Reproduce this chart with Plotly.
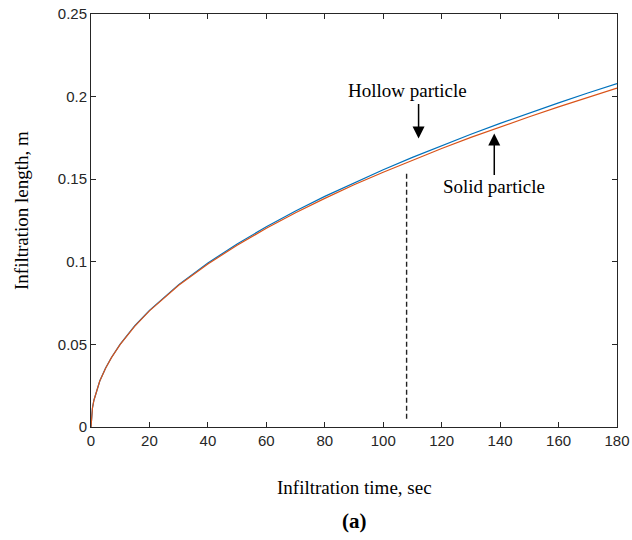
import plotly.graph_objects as go

# Data
time_s = [0, 0.25, 0.5, 1, 2, 3, 5, 7, 10, 15, 20, 30, 40, 50, 60, 70, 80, 90,
          100, 110, 120, 130, 140, 150, 160, 170, 180]
hollow = [0, 0.0082, 0.0115, 0.0162, 0.0228, 0.0278, 0.0357, 0.0421, 0.0502,
          0.0613, 0.0706, 0.0862, 0.0993, 0.1108, 0.1212, 0.1307, 0.1396,
          0.1479, 0.1557, 0.1632, 0.1704, 0.1772, 0.1838, 0.1901, 0.1962,
          0.2022, 0.2079]
solid = [0, 0.0082, 0.0115, 0.0162, 0.0228, 0.0278, 0.0356, 0.0420, 0.0500,
         0.0611, 0.0703, 0.0858, 0.0987, 0.1100, 0.1203, 0.1297, 0.1384,
         0.1466, 0.1542, 0.1616, 0.1686, 0.1753, 0.1817, 0.1878, 0.1938,
         0.1997, 0.2052]
dash_x = [108, 108]
dash_y = [0.005, 0.1545]

x_ticks = [0, 20, 40, 60, 80, 100, 120, 140, 160, 180]
y_ticks = [0, 0.05, 0.1, 0.15, 0.2, 0.25]
y_tick_text = ["0", "0.05", "0.1", "0.15", "0.2", "0.25"]

AX = "#262626"
SERIF = "Liberation Serif, Times New Roman, serif"
SANS = "Liberation Sans, Arial, sans-serif"

# plot box at x 91..617, y 14..427 of the 632x540 window (body margin removed)
W, H = 632, 540
L, T = 91, 14
PW, PH = 526, 413

fig = go.Figure()
fig.add_trace(go.Scatter(x=time_s, y=hollow, mode="lines",
                         line=dict(color="#0072BD", width=1.2), name="Hollow"))
fig.add_trace(go.Scatter(x=time_s, y=solid, mode="lines",
                         line=dict(color="#D95319", width=1.2), name="Solid"))
fig.add_trace(go.Scatter(x=dash_x, y=dash_y, mode="lines",
                         line=dict(color="#222222", width=1.4, dash="5px,3px"),
                         name="dash"))

axis_common = dict(showgrid=False, zeroline=False, showline=True, linecolor=AX,
                   linewidth=1, mirror="ticks", ticks="inside", ticklen=5,
                   tickcolor=AX, tickwidth=1, automargin=False,
                   ticklabeloverflow="allow",
                   tickfont=dict(family=SANS, size=15, color=AX))

fig.update_layout(
    width=W, height=H,
    margin=dict(l=L, r=W - L - PW, t=T, b=H - T - PH, autoexpand=False),
    plot_bgcolor="white", paper_bgcolor="white",
    showlegend=False,
    xaxis=dict(range=[0, 180], tickvals=x_ticks, **axis_common),
    yaxis=dict(range=[0, 0.25], tickvals=y_ticks, ticktext=y_tick_text,
               **axis_common),
)


def px(xw):
    return (xw - L) / PW


def py(yw):
    return (T + PH - yw) / PH


annotations = [
    dict(text="Infiltration time, sec", xref="paper", yref="paper",
         x=px(354), y=py(487), showarrow=False,
         xanchor="center", yanchor="middle",
         font=dict(family=SERIF, size=19, color="black")),
    dict(text="Infiltration length, m", xref="paper", yref="paper",
         x=px(21), y=py(211), showarrow=False,
         textangle=-90, xanchor="center", yanchor="middle",
         font=dict(family=SERIF, size=19, color="black")),
    dict(text="<b>(a)</b>", xref="paper", yref="paper",
         x=px(354), y=py(521), showarrow=False,
         xanchor="center", yanchor="middle",
         font=dict(family=SERIF, size=21, color="black")),
    dict(text="Hollow particle", x=108.2, y=0.2035, showarrow=False,
         xanchor="center", yanchor="middle",
         font=dict(family=SERIF, size=19, color="black")),
    dict(text="Solid particle", x=137.8, y=0.1453, showarrow=False,
         xanchor="center", yanchor="middle",
         font=dict(family=SERIF, size=19, color="black")),
    dict(text="", x=112.1, y=0.1746, showarrow=True, ax=0, ay=-36,
         arrowhead=2, arrowsize=1.6, arrowwidth=1.5, arrowcolor="black",
         standoff=0),
    dict(text="", x=138.0, y=0.1776, showarrow=True, ax=0, ay=43,
         arrowhead=2, arrowsize=1.6, arrowwidth=1.5, arrowcolor="black",
         standoff=0),
]
fig.update_layout(annotations=annotations)

fig.write_html("out.html",
               config={"displayModeBar": False},
               post_script="document.body.style.margin='0';"
                           "document.body.style.padding='0';")
